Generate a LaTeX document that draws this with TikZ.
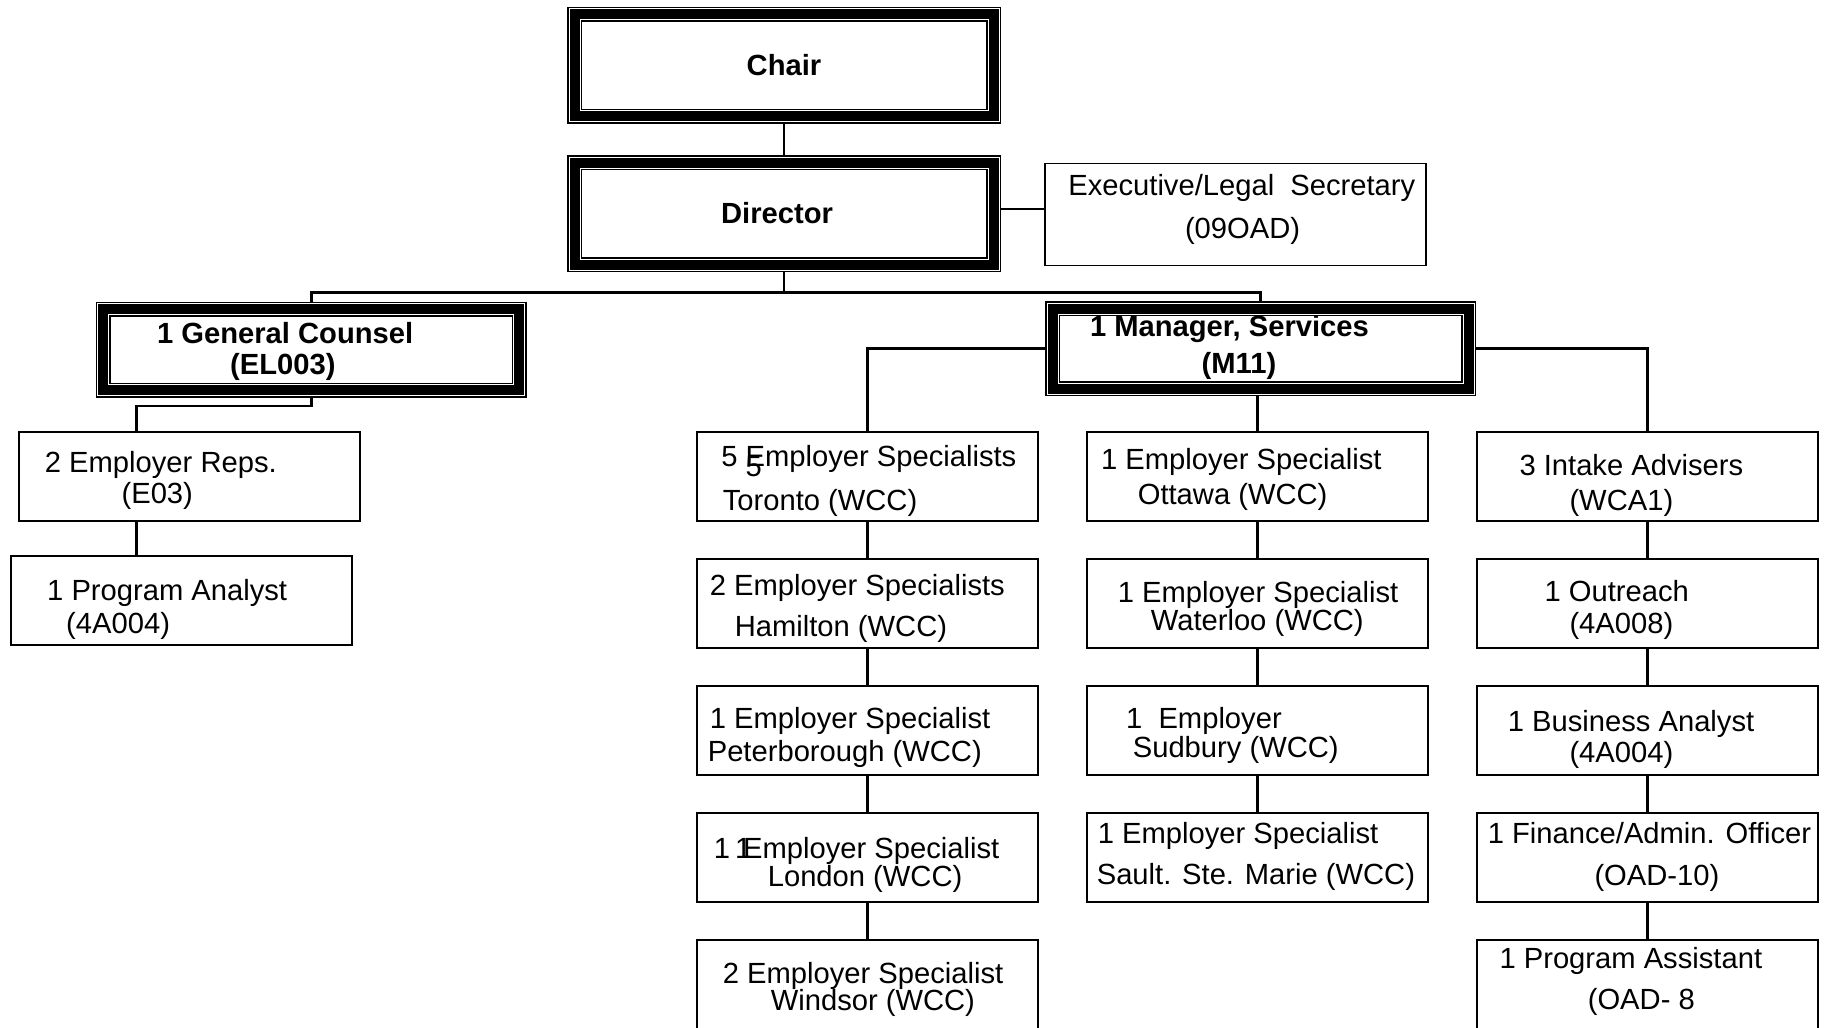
\documentclass[tikz,border=0pt]{standalone}
\usepackage{fontspec}
\setmainfont{Liberation Sans}
\usetikzlibrary{positioning}
\newlength{\pxu}
\setlength{\pxu}{0.1mm}
% two lines in a box: width, first baseline, indent, text, line distance, indent, text
\newcommand{\boxtext}[7]{\makebox[0pt]{\raisebox{-#2\pxu}[0pt][0pt]{\parbox[t]{#1\pxu}{\baselineskip=#5\pxu\lineskiplimit=-\maxdimen\hspace*{#3\pxu}#4\\\hspace*{#6\pxu}#7}}}}

\begin{document}
\begin{tikzpicture}[x=0.1mm, y=-0.1mm, node distance=3.8mm,
        font=\fontsize{8.3}{10}\selectfont,
        headbox/.style={minimum width=41.9mm, minimum height=10.2mm, inner sep=0pt, outer sep=0pt, font=\fontsize{8.3}{10}\selectfont\bfseries},
        unit/.style={draw, line width=0.15mm, minimum width=34.1mm, minimum height=8.9mm, inner sep=0pt, outer sep=0pt},
        link/.style={line width=0.27mm}]
        \clip (0,0) rectangle (1824,1027);

        % Top
        \node [headbox] (chair) at (784,65.5) {Chair};
        \node [headbox] (dir) at (784,213.5) {Director\hspace*{14\pxu}};
        \node [unit, minimum width=38.1mm, minimum height=10.2mm] (exec) at (1235.5,214.5) {\boxtext{381}{-19.5}{23.3}{Executive/Legal\ \ Secretary}{43.5}{140}{(09OAD)}};

        % Second level
        \node [headbox, minimum width=41.6mm, minimum height=8.1mm] (gc) at (311.3,349.5) {\boxtext{431}{-6.2}{61.3}{1 General Counsel}{30.7}{134.3}{(EL003)}};
        \node [headbox, minimum width=41.6mm, minimum height=8.0mm] (mgr) at (1260.5,348.8) {\boxtext{431}{-12.1}{45}{1 Manager, Services}{37}{156.7}{(M11)}};

        % Legal side
        \node [unit] (reps) at (189.7,476.5) {\boxtext{341}{-3.8}{25.7}{2 Employer Reps.}{30.3}{102.4}{(E03)}};
        \node [unit] (pan) at (181.7,600.4) {\boxtext{341}{-0.4}{36}{1 Program Analyst}{33}{55}{(4A004)}};

        % Services, first column
        \node [unit] (tor) at (867.3,476.5) {\boxtext{341}{-9.8}{24.5}{5 \rlap{\raisebox{-10\pxu}{5}}Employer Specialists}{43.3}{26}{Toronto (WCC)}};
        \node [unit, below=of tor] (ham) {\boxtext{341}{-8.5}{13}{2 Employer Specialists}{41.7}{38}{Hamilton (WCC)}};
        \node [unit, below=of ham] (pet) {\boxtext{341}{-2.5}{13}{1 Employer Specialist}{33.5}{11}{Peterborough (WCC)}};
        \node [unit, below=of pet] (lon) {\boxtext{341}{0.8}{17}{1 \hspace{5\pxu}\rlap{\hspace{-8\pxu}1}Employer Specialist}{27.7}{71}{London (WCC)}};
        \node [unit, below=of lon] (win) {\boxtext{341}{-1.2}{26}{2 Employer Specialist}{26.7}{74}{Windsor (WCC)}};

        % Services, second column
        \node [unit] (ott) at (1257.3,476.5) {\boxtext{341}{-7.2}{14.3}{1 Employer Specialist}{35}{51}{Ottawa (WCC)}};
        \node [unit, below=of ott] (wat) {\boxtext{341}{-0.8}{31}{1 Employer Specialist}{27.3}{64}{Waterloo (WCC)}};
        \node [unit, below=of wat] (sud) {\boxtext{341}{-2.2}{39.3}{1\ \ Employer}{29}{46}{Sudbury (WCC)}};
        \node [unit, below=of sud] (sau) {\boxtext{341}{-14.2}{11}{1 Employer Specialist}{40.7}{10}{Sault. Ste. Marie (WCC)}};

        % Services, third column
        \node [unit] (intk) at (1647.3,476.5) {\boxtext{341}{-1.5}{42.7}{3 Intake Advisers}{35}{92.7}{(WCA1)}};
        \node [unit, below=of intk] (outr) {\boxtext{341}{-1.8}{67.7}{1 Outreach}{31.6}{92.7}{(4A008)}};
        \node [unit, below=of outr] (bus) {\boxtext{341}{1.2}{31}{1 Business Analyst}{31}{92.7}{(4A004)}};
        \node [unit, below=of bus] (fin) {\boxtext{341}{-14.2}{11}{1 Finance/Admin. Officer}{41.7}{117.7}{(OAD-10)}};
        \node [unit, below=of fin] (pas) {\boxtext{341}{-16.2}{22.7}{1 Program Assistant}{41}{111}{(OAD- 8}};

        % Connectors
        \coordinate (split) at (784,292.5);
        \coordinate (legal) at (136.7,406);
        \coordinate (sec) at ([yshift=0.45mm]dir.east);
        \draw [link] (chair) -- (dir);
        \draw [link] (sec) -- (sec -| exec.west);
        \draw [link] (dir) -- (split);
        \draw [link] (gc.north) |- (split) -| (mgr.north);
        \draw [link] (gc.south) |- (legal) -- (legal |- reps.north);
        \draw [link] (legal |- reps.south) -- (legal |- pan.north);
        \draw [link] (mgr.west) -| (tor.north);
        \draw [link] (mgr.east) -| (intk.north);
        \draw [link] (mgr.south -| ott.north) -- (ott.north);
        \foreach \a/\b in {tor/ham, ham/pet, pet/lon, lon/win, ott/wat, wat/sud, sud/sau, intk/outr, outr/bus, bus/fin, fin/pas}
            \draw [link] (\a) -- (\b);

        % Framed head boxes
        \foreach \n in {chair, dir, gc, mgr} {
            \draw [line width=1.5mm] (\n.north west) rectangle (\n.south east);
            \draw [white, line width=1.2mm] (\n.north west) rectangle (\n.south east);
            \draw [line width=1mm] (\n.north west) rectangle (\n.south east);
        }
    \end{tikzpicture}
\end{document}
